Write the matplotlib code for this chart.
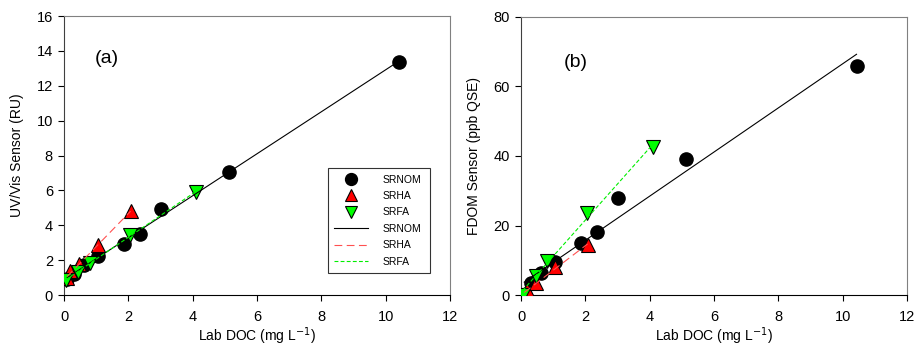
import numpy as np
import matplotlib
matplotlib.use("Agg")
import matplotlib.pyplot as plt

plt.rcParams['font.family'] = ['Liberation Sans', 'DejaVu Sans']

# Lab DOC (mg/L) and sensor readings
srnom_doc = [0.1, 0.3, 0.62, 1.07, 1.85, 2.36, 3.02, 5.12, 10.43]
srnom_uv = [0.9, 1.2, 1.72, 2.24, 2.9, 3.52, 4.92, 7.05, 13.38]
srnom_fdom = [0.0, 3.4, 6.4, 9.6, 15.0, 18.0, 27.9, 39.1, 66.0]

srha_doc = [0.1, 0.2, 0.46, 1.06, 2.07]
srha_uv = [0.95, 1.35, 1.8, 2.87, 4.8]
srha_fdom = [0.3, 1.5, 3.4, 8.1, 14.4]

srfa_doc = [0.05, 0.45, 0.8, 2.06, 4.11]
srfa_uv = [0.86, 1.34, 1.82, 3.44, 5.92]
srfa_fdom = [0.0, 5.5, 9.8, 23.5, 42.7]

x_ticks = [0, 2, 4, 6, 8, 10, 12]


def fit_line(x, y):
    x = np.asarray(x)
    m, b = np.polyfit(x, y, 1)
    xs = np.array([x.min(), x.max()])
    return xs, m * xs + b


def draw_panel(ax, y_nom, y_ha, y_fa, ylim, yticks, ylabel, tag, tag_xy):
    ax.plot(srnom_doc, y_nom, 'o', color='black', mec='black', ms=9.5, ls='none',
            label='SRNOM', zorder=3)
    ax.plot(srha_doc, y_ha, '^', color='#ff0000', mec='black', mew=0.8, ms=9.5,
            ls='none', label='SRHA', zorder=3)
    ax.plot(srfa_doc, y_fa, 'v', color='#00ff00', mec='black', mew=0.8, ms=9.5,
            ls='none', label='SRFA', zorder=3)

    xs, ys = fit_line(srnom_doc, y_nom)
    ax.plot(xs, ys, '-', color='black', lw=0.8, label='SRNOM', zorder=4)
    xs, ys = fit_line(srha_doc, y_ha)
    ax.plot(xs, ys, color='#ff5050', lw=0.8, dashes=(7, 4), label='SRHA', zorder=4)
    xs, ys = fit_line(srfa_doc, y_fa)
    ax.plot(xs, ys, color='#00ee00', lw=0.8, dashes=(3.5, 2), label='SRFA', zorder=4)

    ax.set_xlim(0, 12)
    ax.set_ylim(*ylim)
    ax.set_xticks(x_ticks)
    ax.set_yticks(yticks)
    ax.tick_params(direction='out', length=4, width=0.8, labelsize=10.5,
                   top=False, right=False)
    ax.tick_params(axis='x', pad=7)
    ax.tick_params(axis='y', pad=4)
    for s in ['top', 'right']:
        ax.spines[s].set_color('#808080')
    ax.spines['left'].set_color('#404040')
    ax.spines['bottom'].set_color('black')
    ax.set_xlabel('Lab DOC (mg L$^{-1}$)', fontsize=10, labelpad=1)
    ax.set_ylabel(ylabel, fontsize=10, labelpad=9)
    ax.text(tag_xy[0], tag_xy[1], tag, transform=ax.transAxes, fontsize=14)


fig = plt.figure(figsize=(9.17, 3.56), dpi=100)
ax1 = fig.add_axes([0.0698, 0.1713, 0.4209, 0.7837])
ax2 = fig.add_axes([0.5682, 0.1713, 0.4209, 0.7810])

draw_panel(ax1, srnom_uv, srha_uv, srfa_uv, (0, 16), range(0, 17, 2),
           'UV/Vis Sensor (RU)', '(a)', (0.08, 0.83))
draw_panel(ax2, srnom_fdom, srha_fdom, srfa_fdom, (0, 80), range(0, 81, 20),
           'FDOM Sensor (ppb QSE)', '(b)', (0.11, 0.82))

leg = ax1.legend(loc='lower left', bbox_to_anchor=(0.671, 0.06, 0.29, 0.39),
                 mode='expand', fontsize=7.5, frameon=True, fancybox=False,
                 edgecolor='black', handlelength=3.2, labelspacing=0.62,
                 borderpad=0.6, handletextpad=1.4, markerfirst=True,
                 markerscale=0.9)
leg.get_frame().set_linewidth(0.8)

fig.savefig('out.png', dpi=100)
